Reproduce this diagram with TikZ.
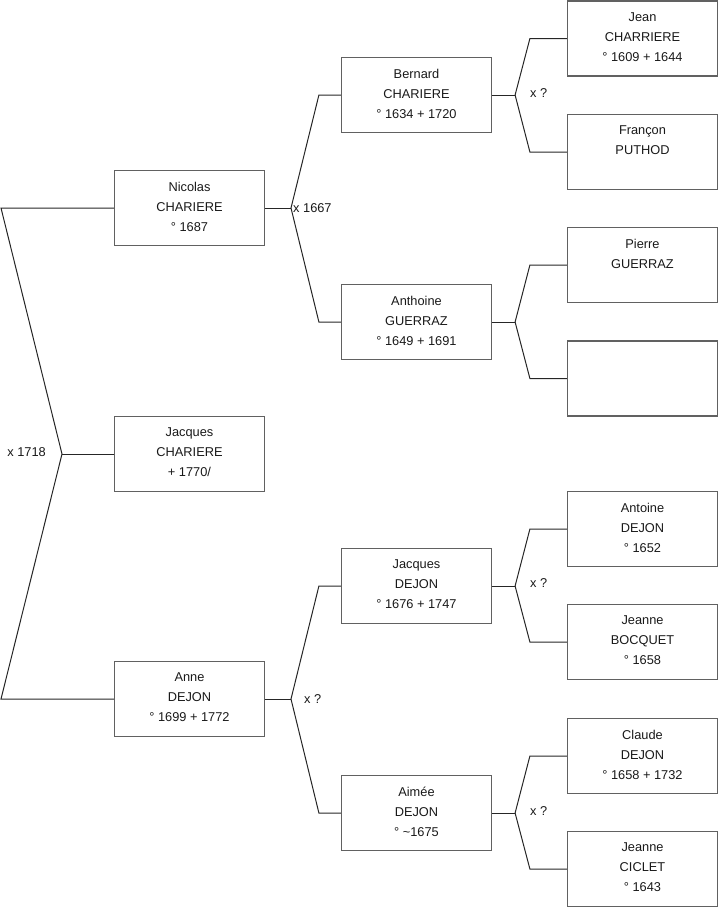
\documentclass[tikz,border=0pt]{standalone}
\usepackage{fontspec}
\setmainfont{Liberation Sans}
\usetikzlibrary{calc}
\begin{document}
\begin{tikzpicture}[x=1pt,y=-1pt,
  boxst/.style={draw=black!62,line width=1.2pt,rectangle,minimum width=150pt,minimum height=75pt,inner sep=0pt},
  txt/.style={align=center,inner sep=0pt,font=\fontsize{12.8}{20}\selectfont,text=black!90},
  lbl/.style={inner sep=0pt,font=\fontsize{12.8}{15}\selectfont,text=black!90},
  conn/.style={draw=black!85,line width=1pt}]
\useasboundingbox (0,0) rectangle (719,908);
\newcommand\pbox[3]{%
  \node[boxst] (#1) at (#2) {};
  \node[txt,anchor=north] (#1t) at ([yshift=-12pt]#1.north) {#3};}
% column 1
\pbox{nic}{189.5,208}{Nicolas\\CHARIERE\\° 1687}
\pbox{jac}{189.5,454}{Jacques\\CHARIERE\\+ 1770/}
\pbox{anne}{189.5,699}{Anne\\DEJON\\° 1699 + 1772}
% column 2
\pbox{bern}{416.5,95}{Bernard\\CHARIERE\\° 1634 + 1720}
\pbox{anth}{416.5,322}{Anthoine\\GUERRAZ\\° 1649 + 1691}
\pbox{jacd}{416.5,586}{Jacques\\DEJON\\° 1676 + 1747}
\pbox{aimee}{416.5,813}{Aimée\\DEJON\\° \textasciitilde1675}
% column 3
\pbox{jean}{642.5,38.5}{Jean\\CHARRIERE\\° 1609 + 1644}
\pbox{fran}{642.5,152}{Françon\\PUTHOD}
\pbox{pier}{642.5,265}{Pierre\\GUERRAZ}
\node[boxst] (empty) at (642.5,378.5) {};
\pbox{anto}{642.5,529}{Antoine\\DEJON\\° 1652}
\pbox{jeab}{642.5,642}{Jeanne\\BOCQUET\\° 1658}
\pbox{clau}{642.5,756}{Claude\\DEJON\\° 1658 + 1732}
\pbox{jeac}{642.5,869}{Jeanne\\CICLET\\° 1643}
% root connector
\coordinate (ra) at (1,208);
\coordinate (rv) at (62,454);
\coordinate (rb) at (1,699);
\draw[conn] (nic.west) -- (ra) -- (rv) -- (rb) -- (anne.west);
\draw[conn] (rv) -- (jac.west);
\node[lbl,anchor=east] (l1718) at (46,452) {x 1718};
% generation 2 connectors
\coordinate (v1) at (291,208);
\draw[conn] (nic.east) -- (v1);
\draw[conn] (bern.west) -- ++(-22,0) -- (v1) -- ($(anth.west)+(-22,0)$) -- (anth.west);
\node[lbl,anchor=west] (l1667) at (293,208) {x 1667};
\coordinate (v2) at (291,699);
\draw[conn] (anne.east) -- (v2);
\draw[conn] (jacd.west) -- ++(-22,0) -- (v2) -- ($(aimee.west)+(-22,0)$) -- (aimee.west);
\node[lbl,anchor=west] (l2) at (304,699) {x ?};
% generation 3 connectors
\newcommand\fork[3]{%
  \coordinate (#1v) at ($(#1.east)+(23,0)$);
  \draw[conn] (#1.east) -- (#1v);
  \draw[conn] (#2.west) -- ++(-37,0) -- (#1v) -- ($(#3.west)+(-37,0)$) -- (#3.west);}
\fork{bern}{jean}{fran}
\fork{anth}{pier}{empty}
\fork{jacd}{anto}{jeab}
\fork{aimee}{clau}{jeac}
\node[lbl,anchor=west] (l3) at (530,93) {x ?};
\node[lbl,anchor=west] (l4) at (530,583) {x ?};
\node[lbl,anchor=west] (l5) at (530,811) {x ?};
\end{tikzpicture}
\end{document}
